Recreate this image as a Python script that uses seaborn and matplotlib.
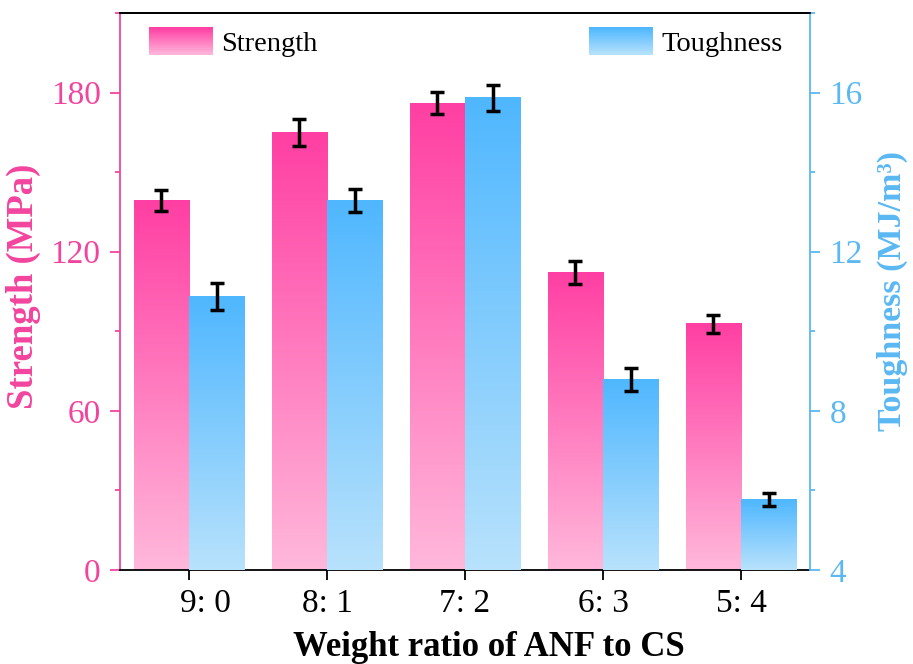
import numpy as np
import pandas as pd
import matplotlib
matplotlib.use("Agg")
import matplotlib.pyplot as plt
import matplotlib.transforms as mtransforms
import seaborn as sns
from matplotlib.colors import LinearSegmentedColormap
from matplotlib.patches import Rectangle
from matplotlib.legend_handler import HandlerBase
from matplotlib.ticker import MultipleLocator

# ---------------- data ----------------
ratios = ["9: 0", "8: 1", "7: 2", "6: 3", "5: 4"]
strength = [139.3, 164.9, 176.0, 112.3, 92.9]
strength_err = [3.8, 5.0, 4.1, 4.3, 3.4]
toughness = [10.88, 13.29, 15.87, 8.79, 5.78]
toughness_err = [0.34, 0.29, 0.33, 0.28, 0.16]
series = ["Strength", "Toughness"]
left_ticks = [0, 60, 120, 180]
right_ticks = [4, 8, 12, 16]

# ---------------- style ----------------
PINK_DARK, PINK_LIGHT = "#FF3FA3", "#FFB8DB"
BLUE_DARK, BLUE_LIGHT = "#4FB7FF", "#B8E2FC"
PINK_AXIS, BLUE_AXIS = "#F2449E", "#5BB8F2"

sns.set_theme(style="ticks")
plt.rcParams['font.family'] = ['Liberation Serif', 'DejaVu Serif']
plt.rcParams['text.color'] = 'black'

pink_cmap = LinearSegmentedColormap.from_list("pink", [PINK_LIGHT, PINK_DARK])
blue_cmap = LinearSegmentedColormap.from_list("blue", [BLUE_LIGHT, BLUE_DARK])

df_s = pd.DataFrame({"ratio": ratios, "value": strength, "series": "Strength"})
df_t = pd.DataFrame({"ratio": ratios, "value": toughness, "series": "Toughness"})

fig = plt.figure(figsize=(9.13, 6.64), dpi=100)
ax1 = fig.add_axes([0.1314, 0.1416, 0.7558, 0.8388])
ax2 = ax1.twinx()

pal = {"Strength": PINK_DARK, "Toughness": BLUE_DARK}
sns.barplot(data=df_s, x="ratio", y="value", hue="series", hue_order=series,
            order=ratios, palette=pal, dodge=True, width=0.8, errorbar=None,
            legend=False, ax=ax1)
sns.barplot(data=df_t, x="ratio", y="value", hue="series", hue_order=series,
            order=ratios, palette=pal, dodge=True, width=0.8, errorbar=None,
            legend=False, ax=ax2)


def gradient_bars(ax, cmap, ymin):
    bars = [p for p in ax.patches if isinstance(p, Rectangle)
            and np.isfinite(p.get_height()) and p.get_height() > 0]
    bars.sort(key=lambda p: p.get_x())
    grad = np.linspace(0, 1, 256).reshape(-1, 1)
    for p in bars:
        x0, w = p.get_x(), p.get_width()
        top = p.get_y() + p.get_height()
        ax.imshow(grad, extent=[x0, x0 + w, ymin, top], origin='lower',
                  aspect='auto', cmap=cmap, zorder=1.5, interpolation='bilinear')
        p.set_facecolor('none')
        p.set_edgecolor('none')
    return bars


bars1 = gradient_bars(ax1, pink_cmap, 0)
bars2 = gradient_bars(ax2, blue_cmap, 4)

x1 = [p.get_x() + p.get_width() / 2 for p in bars1]
x2 = [p.get_x() + p.get_width() / 2 for p in bars2]
ekw = dict(fmt='none', ecolor='black', elinewidth=2.5, capsize=5, capthick=2.5, zorder=4)
ax1.errorbar(x1, strength, yerr=strength_err, **ekw)
ax2.errorbar(x2, toughness, yerr=toughness_err, **ekw)

# ---------------- axes ----------------
ax1.set_xlim(-0.5, 4.5)
ax1.set_ylim(0, 210)
ax2.set_ylim(4, 18)
ax1.set_yticks(left_ticks)
ax1.yaxis.set_minor_locator(MultipleLocator(30))
ax2.set_yticks(right_ticks)
ax2.yaxis.set_minor_locator(MultipleLocator(2))

ax1.tick_params(axis='y', which='major', colors=PINK_AXIS, direction='out',
                length=7, width=1.3, labelsize=24, pad=7)
ax1.tick_params(axis='y', which='minor', colors=PINK_AXIS, direction='out',
                length=3.5, width=1.3)
ax2.tick_params(axis='y', which='major', colors=BLUE_AXIS, direction='out',
                length=7, width=1.3, labelsize=24, pad=7)
ax2.tick_params(axis='y', which='minor', colors=BLUE_AXIS, direction='out',
                length=3.5, width=1.3)
ax1.tick_params(axis='x', colors='black', direction='out', length=7, width=1.3,
                labelsize=24, pad=6)

for ax in (ax1, ax2):
    for s in ax.spines.values():
        s.set_linewidth(1.3)
ax1.spines['left'].set_color(PINK_AXIS)
ax1.spines['right'].set_visible(False)
ax1.spines['top'].set_color('black')
ax1.spines['bottom'].set_color('black')
ax2.spines['right'].set_color(BLUE_AXIS)
ax2.spines['left'].set_visible(False)
ax2.spines['bottom'].set_visible(False)
ax2.spines['top'].set_color('black')

# first category label sits a little to the right in the reference
first_lbl = ax1.get_xticklabels()[0]
first_lbl.set_transform(first_lbl.get_transform() +
                        mtransforms.ScaledTranslation(16 / 100, 0, fig.dpi_scale_trans))

ax1.set_xlabel("Weight ratio of ANF to CS", fontsize=25, fontweight='bold',
               color='black', labelpad=9)
ax1.xaxis.label.set_x(0.535)
ax1.set_ylabel("Strength (MPa)", fontsize=26.5, fontweight='bold',
               color=PINK_AXIS, labelpad=7)
ax1.yaxis.label.set_y(0.51)
ax2.set_ylabel("Toughness (MJ/m\u00b3)", fontsize=24.5, fontweight='bold',
               color=BLUE_AXIS, labelpad=10, rotation=90)


# ---------------- legends ----------------
class GradHandler(HandlerBase):
    def __init__(self, cmap, n=40):
        super().__init__()
        self.cmap = cmap
        self.n = n

    def create_artists(self, legend, orig_handle, xdescent, ydescent,
                       width, height, fontsize, trans):
        arts = []
        for i in range(self.n):
            c = self.cmap(i / (self.n - 1))
            r = Rectangle((-xdescent, -ydescent + height * i / self.n),
                          width, height / self.n * 1.1,
                          facecolor=c, edgecolor='none', transform=trans)
            arts.append(r)
        return arts


h1 = Rectangle((0, 0), 1, 1)
h2 = Rectangle((0, 0), 1, 1)
lkw = dict(frameon=False, fontsize=20.5, handlelength=2.25, handleheight=1.12,
           handletextpad=0.27, borderpad=0, borderaxespad=0, labelcolor='black')
leg1 = ax2.legend([h1], ["Strength"], handler_map={h1: GradHandler(pink_cmap)},
                  loc='upper left', bbox_to_anchor=(0.042, 0.974), **lkw)
ax2.add_artist(leg1)
leg2 = ax2.legend([h2], ["Toughness"], handler_map={h2: GradHandler(blue_cmap)},
                  loc='upper right', bbox_to_anchor=(0.96, 0.974), **lkw)

fig.savefig("out.png", dpi=100)
